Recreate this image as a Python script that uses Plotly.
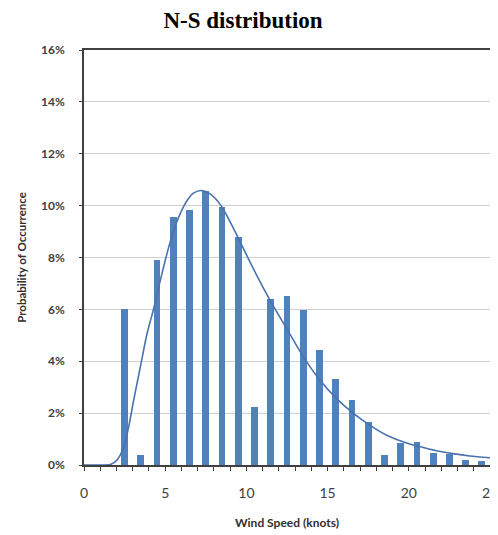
import plotly.graph_objects as go

bar_x = [2.5, 3.5, 4.5, 5.5, 6.5, 7.5, 8.5, 9.5, 10.5, 11.5, 12.5, 13.5, 14.5,
         15.5, 16.5, 17.5, 18.5, 19.5, 20.5, 21.5, 22.5, 23.5, 24.5]
bar_y = [6.0, 0.40, 7.9, 9.55, 9.82, 10.57, 9.95, 8.8, 2.25, 6.39, 6.52, 5.98, 4.43,
         3.33, 2.49, 1.66, 0.39, 0.85, 0.87, 0.48, 0.42, 0.19, 0.14]

curve_x = [0, 1.2, 1.63, 2.04, 2.45, 2.75, 3.06, 3.47, 3.88, 4.29, 4.7, 5.11, 5.52,
           5.93, 6.35, 6.74, 7.26, 7.77, 8.44, 8.99, 9.46, 10.42, 11.45, 12.47,
           13.5, 14.52, 15.54, 16.57, 17.59, 18.61, 19.64, 20.66, 21.69, 22.71,
           23.74, 25]
curve_y = [0, 0, 0.02, 0.19, 0.7, 1.47, 2.5, 3.78, 5.06, 6.03, 7.12, 8.15, 9.04,
           9.7, 10.2, 10.48, 10.58, 10.45, 10.0, 9.38, 8.8, 7.58, 6.36, 5.27,
           4.18, 3.28, 2.57, 2.0, 1.54, 1.16, 0.9, 0.71, 0.55, 0.44, 0.35, 0.28]

y_ticks = [0, 2, 4, 6, 8, 10, 12, 14, 16]
y_tick_text = [f"{v}%" for v in y_ticks]
x_ticks = [0, 5, 10, 15, 20, 25]

fig = go.Figure()
fig.add_trace(go.Bar(x=bar_x, y=[v / 100 for v in bar_y], width=0.42,
                     marker=dict(color="#4f81bd", line=dict(width=0)),
                     showlegend=False))
fig.add_trace(go.Scatter(x=curve_x, y=[v / 100 for v in curve_y], mode="lines",
                         line=dict(color="#4a72ad", width=1.6, shape="spline",
                                   smoothing=0.8),
                         showlegend=False))

axis_col = "#404040"
fig.update_layout(
    width=498, height=527,
    margin=dict(l=75.5, r=15.5, t=42, b=70, autoexpand=False),
    paper_bgcolor="white", plot_bgcolor="white",
    title=dict(text="<b>N-S distribution</b>", x=235 / 498, xanchor="center",
               y=0.977, yanchor="middle",
               font=dict(family="Liberation Serif", size=23, color="black")),
    font=dict(family="Lato", color=axis_col),
    xaxis=dict(range=[0, 25], tickvals=x_ticks, ticks="outside", ticklen=4,
               tickcolor=axis_col, tickwidth=1.3, automargin=False,
               ticklabeloverflow="allow",
               showline=True, linecolor=axis_col, linewidth=1.6, mirror=True,
               showgrid=False, zeroline=False,
               tickfont=dict(size=14, color="#404040"), ticklabelstandoff=10,
               minor=dict(dtick=1, tick0=0, ticks="outside", ticklen=4,
                          tickcolor=axis_col, tickwidth=1.3, showgrid=False),
               title=dict(text="<b>Wind Speed (knots)</b>",
                          font=dict(size=12, color="#303030"), standoff=19)),
    yaxis=dict(range=[0, 0.16], tickvals=[v / 100 for v in y_ticks],
               ticktext=[f"<b>{t}</b>" for t in y_tick_text],
               ticks="outside", ticklen=3, tickcolor=axis_col, tickwidth=1.3,
               automargin=False,
               showline=True, linecolor=axis_col, linewidth=1.6, mirror=True,
               showgrid=True, gridcolor="#d0d0d0", gridwidth=1, zeroline=False,
               tickfont=dict(size=12, color="#404040"), ticklabelstandoff=12,
               title=dict(text="<b>Probability of Occurrence</b>",
                          font=dict(size=11.5, color="#303030"), standoff=12)),
    bargap=0,
)
fig.write_html("out.html")
